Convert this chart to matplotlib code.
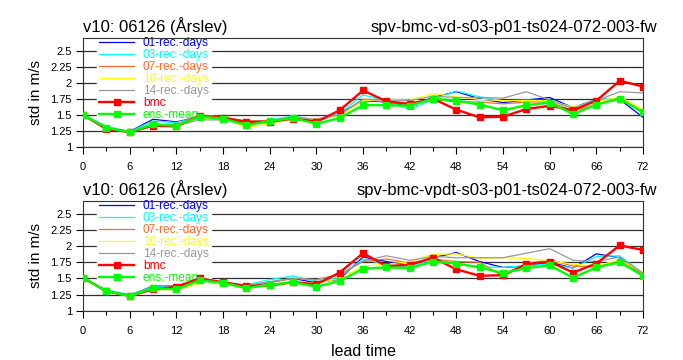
import numpy as np
import matplotlib
matplotlib.use("Agg")
import matplotlib.pyplot as plt
from matplotlib.ticker import MultipleLocator

plt.rcParams["font.family"] = ["Liberation Sans", "DejaVu Sans"]

lead = np.arange(0, 73, 3)

labels = ["01-rec.-days", "03-rec.-days", "07-rec.-days", "10-rec.-days",
          "14-rec.-days", "bmc", "ens.-mean"]
colors = ["#0000ff", "#00ffff", "#ff6a2a", "#ffff00", "#999999", "#ff0000", "#00ff00"]

# top panel (vd)
vd_rec01 = [1.50, 1.30, 1.24, 1.43, 1.39, 1.47, 1.45, 1.38, 1.40, 1.47, 1.40, 1.52,
            1.72, 1.70, 1.63, 1.77, 1.86, 1.75, 1.69, 1.73, 1.77, 1.61, 1.74, 1.74, 1.46]
vd_rec03 = [1.50, 1.32, 1.24, 1.40, 1.38, 1.47, 1.46, 1.39, 1.42, 1.48, 1.42, 1.52,
            1.81, 1.72, 1.58, 1.74, 1.87, 1.78, 1.72, 1.73, 1.72, 1.60, 1.74, 1.75, 1.52]
vd_rec07 = [1.50, 1.29, 1.23, 1.34, 1.34, 1.50, 1.47, 1.40, 1.41, 1.46, 1.42, 1.50,
            1.74, 1.70, 1.66, 1.74, 1.70, 1.70, 1.67, 1.70, 1.70, 1.56, 1.66, 1.77, 1.55]
vd_rec10 = [1.50, 1.29, 1.22, 1.36, 1.34, 1.45, 1.45, 1.30, 1.36, 1.44, 1.44, 1.48,
            1.72, 1.74, 1.73, 1.83, 1.78, 1.74, 1.72, 1.72, 1.72, 1.62, 1.70, 1.78, 1.58]
vd_rec14 = [1.50, 1.30, 1.24, 1.36, 1.33, 1.42, 1.42, 1.37, 1.39, 1.46, 1.43, 1.50,
            1.74, 1.73, 1.72, 1.79, 1.77, 1.77, 1.76, 1.86, 1.73, 1.60, 1.72, 1.86, 1.84]
vd_bmc = [1.50, 1.28, 1.23, 1.33, 1.32, 1.48, 1.45, 1.39, 1.39, 1.44, 1.39, 1.57,
          1.88, 1.71, 1.67, 1.75, 1.58, 1.46, 1.47, 1.59, 1.64, 1.57, 1.72, 2.03, 1.94]
vd_ens = [1.50, 1.30, 1.23, 1.35, 1.33, 1.47, 1.44, 1.34, 1.40, 1.45, 1.36, 1.45,
          1.65, 1.65, 1.64, 1.75, 1.72, 1.66, 1.57, 1.65, 1.69, 1.51, 1.66, 1.75, 1.54]

# bottom panel (vpdt)
vpdt_rec01 = [1.51, 1.31, 1.24, 1.38, 1.38, 1.47, 1.43, 1.37, 1.44, 1.50, 1.43, 1.49,
              1.83, 1.76, 1.70, 1.82, 1.90, 1.76, 1.67, 1.69, 1.75, 1.66, 1.88, 1.82, 1.54]
vpdt_rec03 = [1.51, 1.32, 1.25, 1.37, 1.37, 1.46, 1.44, 1.40, 1.48, 1.54, 1.45, 1.52,
              1.80, 1.71, 1.67, 1.80, 1.72, 1.68, 1.67, 1.70, 1.72, 1.66, 1.84, 1.85, 1.58]
vpdt_rec07 = [1.51, 1.30, 1.23, 1.35, 1.36, 1.48, 1.44, 1.38, 1.44, 1.50, 1.48, 1.56,
              1.76, 1.80, 1.74, 1.80, 1.76, 1.75, 1.53, 1.73, 1.79, 1.69, 1.68, 1.78, 1.57]
vpdt_rec10 = [1.51, 1.29, 1.22, 1.32, 1.33, 1.42, 1.42, 1.34, 1.40, 1.46, 1.42, 1.50,
              1.69, 1.72, 1.76, 1.87, 1.88, 1.81, 1.82, 1.81, 1.77, 1.72, 1.69, 1.79, 1.59]
vpdt_rec14 = [1.51, 1.30, 1.24, 1.36, 1.36, 1.46, 1.44, 1.39, 1.45, 1.50, 1.48, 1.55,
              1.77, 1.85, 1.78, 1.84, 1.82, 1.82, 1.82, 1.89, 1.96, 1.78, 1.76, 1.83, 1.58]
vpdt_bmc = [1.51, 1.30, 1.23, 1.33, 1.37, 1.50, 1.44, 1.38, 1.39, 1.44, 1.41, 1.59,
            1.89, 1.69, 1.71, 1.82, 1.64, 1.54, 1.55, 1.72, 1.76, 1.59, 1.73, 2.01, 1.94]
vpdt_ens = [1.51, 1.30, 1.23, 1.35, 1.33, 1.47, 1.43, 1.35, 1.40, 1.44, 1.37, 1.46,
            1.65, 1.67, 1.66, 1.76, 1.73, 1.67, 1.58, 1.66, 1.70, 1.51, 1.67, 1.75, 1.54]

panels = [
    ("spv-bmc-vd-s03-p01-ts024-072-003-fw",
     [vd_rec01, vd_rec03, vd_rec07, vd_rec10, vd_rec14, vd_bmc, vd_ens]),
    ("spv-bmc-vpdt-s03-p01-ts024-072-003-fw",
     [vpdt_rec01, vpdt_rec03, vpdt_rec07, vpdt_rec10, vpdt_rec14, vpdt_bmc, vpdt_ens]),
]

fig = plt.figure(figsize=(6.83, 3.6), dpi=100)
boxes = [[0.1215, 0.592, 0.82, 0.303], [0.1215, 0.137, 0.82, 0.305]]
yticks = [1, 1.25, 1.5, 1.75, 2, 2.25, 2.5]

for (name, series), box in zip(panels, boxes):
    ax = fig.add_axes(box)
    for i, (vals, lab, col) in enumerate(zip(series, labels, colors)):
        if lab in ("bmc", "ens.-mean"):
            ax.plot(lead, vals, color=col, lw=1.7, marker="s", ms=4.5,
                    mec=col, label=lab, zorder=3 + i)
        else:
            ax.plot(lead, vals, color=col, lw=0.9, label=lab, zorder=3 + i)

    ax.set_xlim(0, 72)
    ax.set_ylim(1, 2.7)
    ax.set_yticks(yticks)
    ax.set_yticklabels(["1", "1.25", "1.5", "1.75", "2", "2.25", "2.5"])
    ax.xaxis.set_major_locator(MultipleLocator(6))
    ax.xaxis.set_minor_locator(MultipleLocator(3))
    ax.tick_params(axis="both", which="both", direction="out", labelsize=8, width=0.8)
    ax.tick_params(axis="both", which="major", length=5, pad=3)
    ax.tick_params(axis="x", which="major", pad=6)
    ax.tick_params(axis="x", which="minor", length=3)
    ax.grid(axis="y", color="#303030", lw=0.9)
    ax.set_axisbelow(True)
    for sp in ax.spines.values():
        sp.set_linewidth(0.8)
        sp.set_color("#333333")

    leg = ax.legend(loc="upper left", bbox_to_anchor=(0.025, 1.03), frameon=True,
                    fontsize=8.6, handlelength=2.9, handletextpad=0.75,
                    handleheight=0.5, labelspacing=0.0, borderpad=0.2,
                    borderaxespad=0)
    leg.get_frame().set_edgecolor("white")
    leg.get_frame().set_facecolor("white")
    leg.get_frame().set_alpha(1)
    for txt, col in zip(leg.get_texts(), colors):
        txt.set_color(col)
    leg.set_zorder(2)

    top = box[1] + box[3]
    fig.text(box[0], top + 0.008, "v10: 06126 (Årslev)", fontsize=12,
             ha="left", va="bottom")
    fig.text(0.962, top + 0.008, name, fontsize=12, ha="right", va="bottom")
    ax.set_ylabel("std in m/s", fontsize=11, labelpad=5)

fig.text(0.5315, 0.004, "lead time", fontsize=11.5, ha="center", va="bottom")

fig.savefig("out.png", dpi=100)
